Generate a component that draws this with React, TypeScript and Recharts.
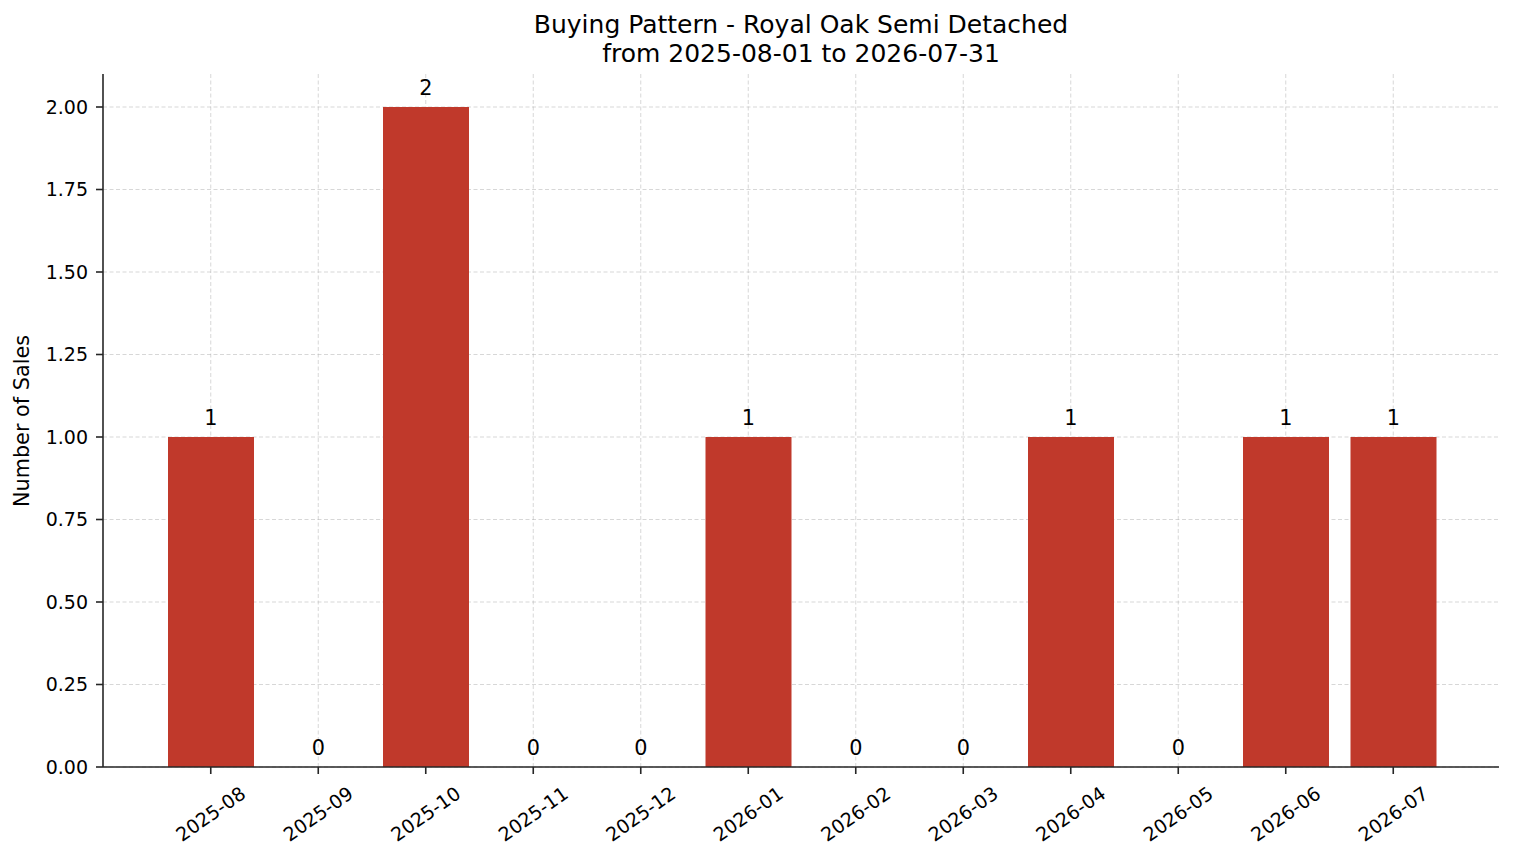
import { BarChart, Bar, XAxis, YAxis, CartesianGrid, ReferenceDot } from 'recharts'

const months = [
  '2025-08', '2025-09', '2025-10', '2025-11', '2025-12', '2026-01',
  '2026-02', '2026-03', '2026-04', '2026-05', '2026-06', '2026-07'
]
const sales = [1, 0, 2, 0, 0, 1, 0, 0, 1, 0, 1, 1]
const yTicks = [0, 0.25, 0.5, 0.75, 1, 1.25, 1.5, 1.75, 2]

const FONT = 'DejaVu Sans, sans-serif'
const AXIS = '#262626'

const chartData = months.map((m, i) => ({ month: m, sales: sales[i] }))

// rotated month label, centred under the tick like matplotlib's ha='center'
const MonthTick = (props: any) => {
  const { x, y, payload } = props
  const cy = y + 38
  return (
    <text
      x={x}
      y={cy}
      dy="0.35em"
      textAnchor="middle"
      fontFamily={FONT}
      fontSize={19}
      fill="#000"
      transform={`rotate(-35, ${x}, ${cy})`}
    >
      {payload.value}
    </text>
  )
}

export default function App() {
  return (
    <div style={{ position: 'absolute', left: 0, top: 0, width: 1514, height: 863, background: '#fff' }}>
      <div
        style={{
          position: 'absolute',
          left: 0,
          width: 1602,
          top: 10,
          textAlign: 'center',
          fontFamily: FONT,
          fontSize: 25,
          lineHeight: '29px',
          color: '#000'
        }}
      >
        Buying Pattern - Royal Oak Semi Detached
        <br />
        from 2025-08-01 to 2026-07-31
      </div>
      <div
        style={{
          position: 'absolute',
          left: 22,
          top: 421,
          transform: 'translate(-50%, -50%) rotate(-90deg)',
          whiteSpace: 'nowrap',
          fontFamily: FONT,
          fontSize: 20.8,
          color: '#000'
        }}
      >
        Number of Sales
      </div>
      <BarChart
        width={1514}
        height={863}
        data={chartData}
        margin={{ top: 74, right: 15, left: 0, bottom: 0 }}
        barSize={86}
      >
        <XAxis
          dataKey="month"
          height={96}
          padding={{ left: 54, right: 52 }}
          tick={<MonthTick />}
          tickSize={7}
          tickMargin={2}
          interval={0}
          axisLine={{ stroke: AXIS, strokeWidth: 1.6 }}
          tickLine={{ stroke: AXIS, strokeWidth: 1.6 }}
        />
        <YAxis
          width={103}
          domain={[0, 2.1]}
          ticks={yTicks}
          tickFormatter={(v: number) => v.toFixed(2)}
          tickSize={7}
          tickMargin={8}
          tick={{ fontFamily: FONT, fontSize: 19, fill: '#000' }}
          axisLine={{ stroke: AXIS, strokeWidth: 1.6 }}
          tickLine={{ stroke: AXIS, strokeWidth: 1.6 }}
        />
        <Bar dataKey="sales" fill="#c0392b" isAnimationActive={false} />
        <CartesianGrid
          stroke="#b0b0b0"
          strokeOpacity={0.5}
          strokeDasharray="4 2.5"
          horizontalValues={yTicks}
          verticalValues={months}
        />
        {/* value labels above every bar, zeros included */}
        {months.map((m, i) => (
          <ReferenceDot
            key={m}
            x={m}
            y={sales[i]}
            r={0}
            fill="none"
            stroke="none"
            label={{
              value: String(sales[i]),
              position: 'top',
              offset: 12,
              fill: '#000',
              fontFamily: FONT,
              fontSize: 20.8
            }}
          />
        ))}
      </BarChart>
    </div>
  )
}
